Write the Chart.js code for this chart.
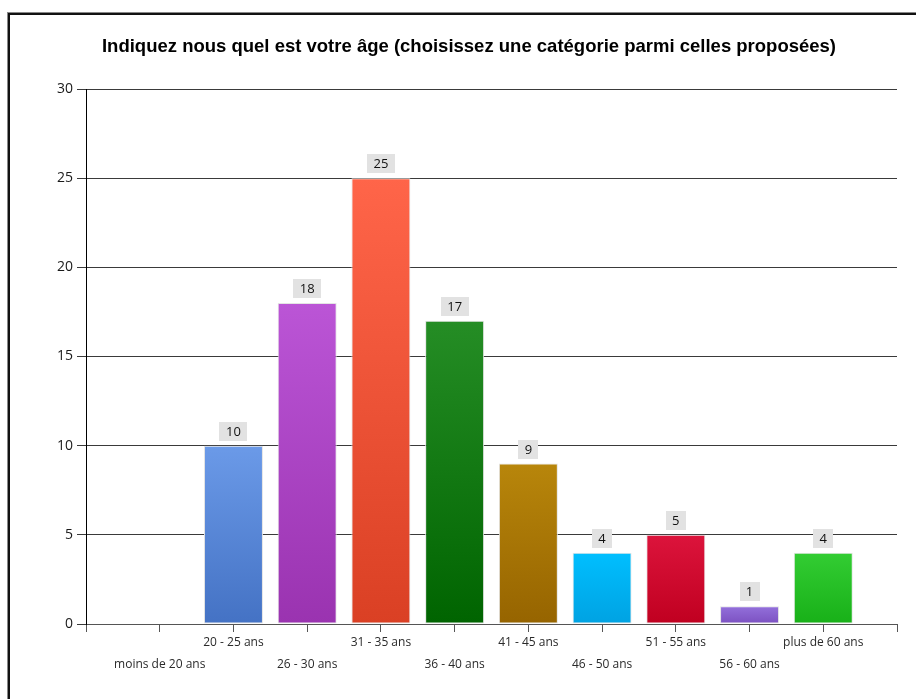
<!DOCTYPE html>
<html>
<head>
<meta charset="utf-8">
<script src="https://cdn.jsdelivr.net/npm/chart.js@4"></script>
<style>
  html, body { margin: 0; padding: 0; background: #ffffff; }
  #wrap { width: 916px; height: 699px; position: relative; }
</style>
</head>
<body>
<div id="wrap"><canvas id="c"></canvas></div>
<script>
// Survey question and answers (number of respondents per age group)
const chartTitle = 'Indiquez nous quel est votre âge (choisissez une catégorie parmi celles proposées)';
const categories = [
  'moins de 20 ans', '20 - 25 ans', '26 - 30 ans', '31 - 35 ans', '36 - 40 ans',
  '41 - 45 ans', '46 - 50 ans', '51 - 55 ans', '56 - 60 ans', 'plus de 60 ans'
];
const counts = [null, 10, 18, 25, 17, 9, 4, 5, 1, 4];
const yTickValues = [0, 5, 10, 15, 20, 25, 30];

// Gradient colours of each bar (top, bottom)
const barTopColors = ['#6495ED', '#6b9ae8', '#bb55d6', '#ff6549', '#258d25', '#b8860b', '#00bfff', '#dc143c', '#9370db', '#33cd33'];
const barBottomColors = ['#4472c4', '#4472c4', '#9a33b0', '#da4024', '#006400', '#966400', '#00a2e2', '#c00020', '#7b50c0', '#18b018'];

// The axis runs one step past both ends, so the categories are padded with empty slots
const axisLabels = [''].concat(categories, ['']);
const axisValues = [null].concat(counts, [null]);

const baseFont = 'Open Sans';

const frameAndTitle = {
  id: 'frameAndTitle',
  beforeDraw(chart) {
    const c = chart.ctx;
    c.save();
    c.fillStyle = '#ffffff';
    c.fillRect(0, 0, chart.width, chart.height);
    c.restore();
  },
  afterDraw(chart) {
    const c = chart.ctx;
    c.save();
    // outer frame
    c.strokeStyle = '#888888';
    c.lineWidth = 1;
    c.strokeRect(7.5, 12.5, chart.width + 20, chart.height + 20);
    c.strokeStyle = '#111111';
    c.lineWidth = 2;
    c.strokeRect(9, 14, chart.width + 20, chart.height + 20);
    // title
    c.fillStyle = '#000000';
    c.font = 'bold 18.5px "Liberation Sans", Arial, sans-serif';
    c.textAlign = 'center';
    c.textBaseline = 'middle';
    c.fillText(chartTitle, 469, 47);
    c.restore();
  }
};

const valueBoxes = {
  id: 'valueBoxes',
  afterDatasetsDraw(chart) {
    const c = chart.ctx;
    const meta = chart.getDatasetMeta(0);
    c.save();
    c.font = '13px "' + baseFont + '", sans-serif';
    c.textAlign = 'center';
    c.textBaseline = 'middle';
    meta.data.forEach((bar, j) => {
      const v = axisValues[j];
      if (v === null || v === undefined) return;
      const txt = String(v);
      const w = Math.round(c.measureText(txt).width) + 13;
      const h = 19;
      const bottom = Math.round(bar.y) - 5;
      const left = Math.round(bar.x - w / 2);
      c.fillStyle = '#e2e2e2';
      c.fillRect(left, bottom - h, w, h);
      c.fillStyle = '#111111';
      c.fillText(txt, bar.x, bottom - h / 2 + 0.5);
    });
    c.restore();
  }
};

new Chart(document.getElementById('c'), {
  type: 'bar',
  data: {
    labels: axisLabels,
    datasets: [{
      data: axisValues,
      backgroundColor(ctx) {
        const i = ctx.dataIndex - 1;
        const v = ctx.raw;
        if (v === null || v === undefined || i < 0) return 'rgba(0,0,0,0)';
        const ys = ctx.chart.scales.y;
        if (!ys || !isFinite(ys.top)) return barTopColors[i];
        const top = ys.getPixelForValue(v);
        const base = ys.getPixelForValue(0);
        const g = ctx.chart.ctx.createLinearGradient(0, top, 0, base);
        g.addColorStop(0, barTopColors[i]);
        g.addColorStop(1, barBottomColors[i]);
        return g;
      },
      borderColor: '#e4e4e4',
      borderWidth: 1,
      borderSkipped: false,
      categoryPercentage: 1,
      barPercentage: 0.8
    }]
  },
  options: {
    responsive: true,
    maintainAspectRatio: false,
    animation: false,
    layout: { padding: { top: 89, right: 19, bottom: 0, left: 0 } },
    plugins: {
      legend: { display: false },
      title: { display: false },
      tooltip: { enabled: false }
    },
    scales: {
      x: {
        type: 'category',
        offset: false,
        grid: { drawOnChartArea: false, drawTicks: true, tickLength: 8, color: '#555555', offset: false },
        border: { display: true, color: '#555555', width: 1 },
        ticks: {
          autoSkip: false,
          maxRotation: 0,
          minRotation: 0,
          padding: 0,
          color: '#2a2a2a',
          font: { family: baseFont, size: 12, lineHeight: 22 / 12 },
          callback(value, index) {
            const label = this.getLabelForValue(value);
            if (!label) return '';
            // alternate the labels over two rows
            return (index % 2 === 1) ? ['', label] : label;
          }
        },
        afterFit(scale) { scale.height = 75; }
      },
      y: {
        min: yTickValues[0],
        max: yTickValues[yTickValues.length - 1],
        afterBuildTicks(scale) { scale.ticks = yTickValues.map(v => ({ value: v })); },
        grid: { color: '#3a3a3a', lineWidth: 1, tickLength: 9, drawTicks: true },
        border: { display: true, color: '#000000', width: 1 },
        ticks: {
          padding: 4,
          color: '#1a1a1a',
          font: { family: baseFont, size: 14 }
        },
        afterFit(scale) { scale.width = 86; }
      }
    }
  },
  plugins: [frameAndTitle, valueBoxes]
});
</script>
</body>
</html>
